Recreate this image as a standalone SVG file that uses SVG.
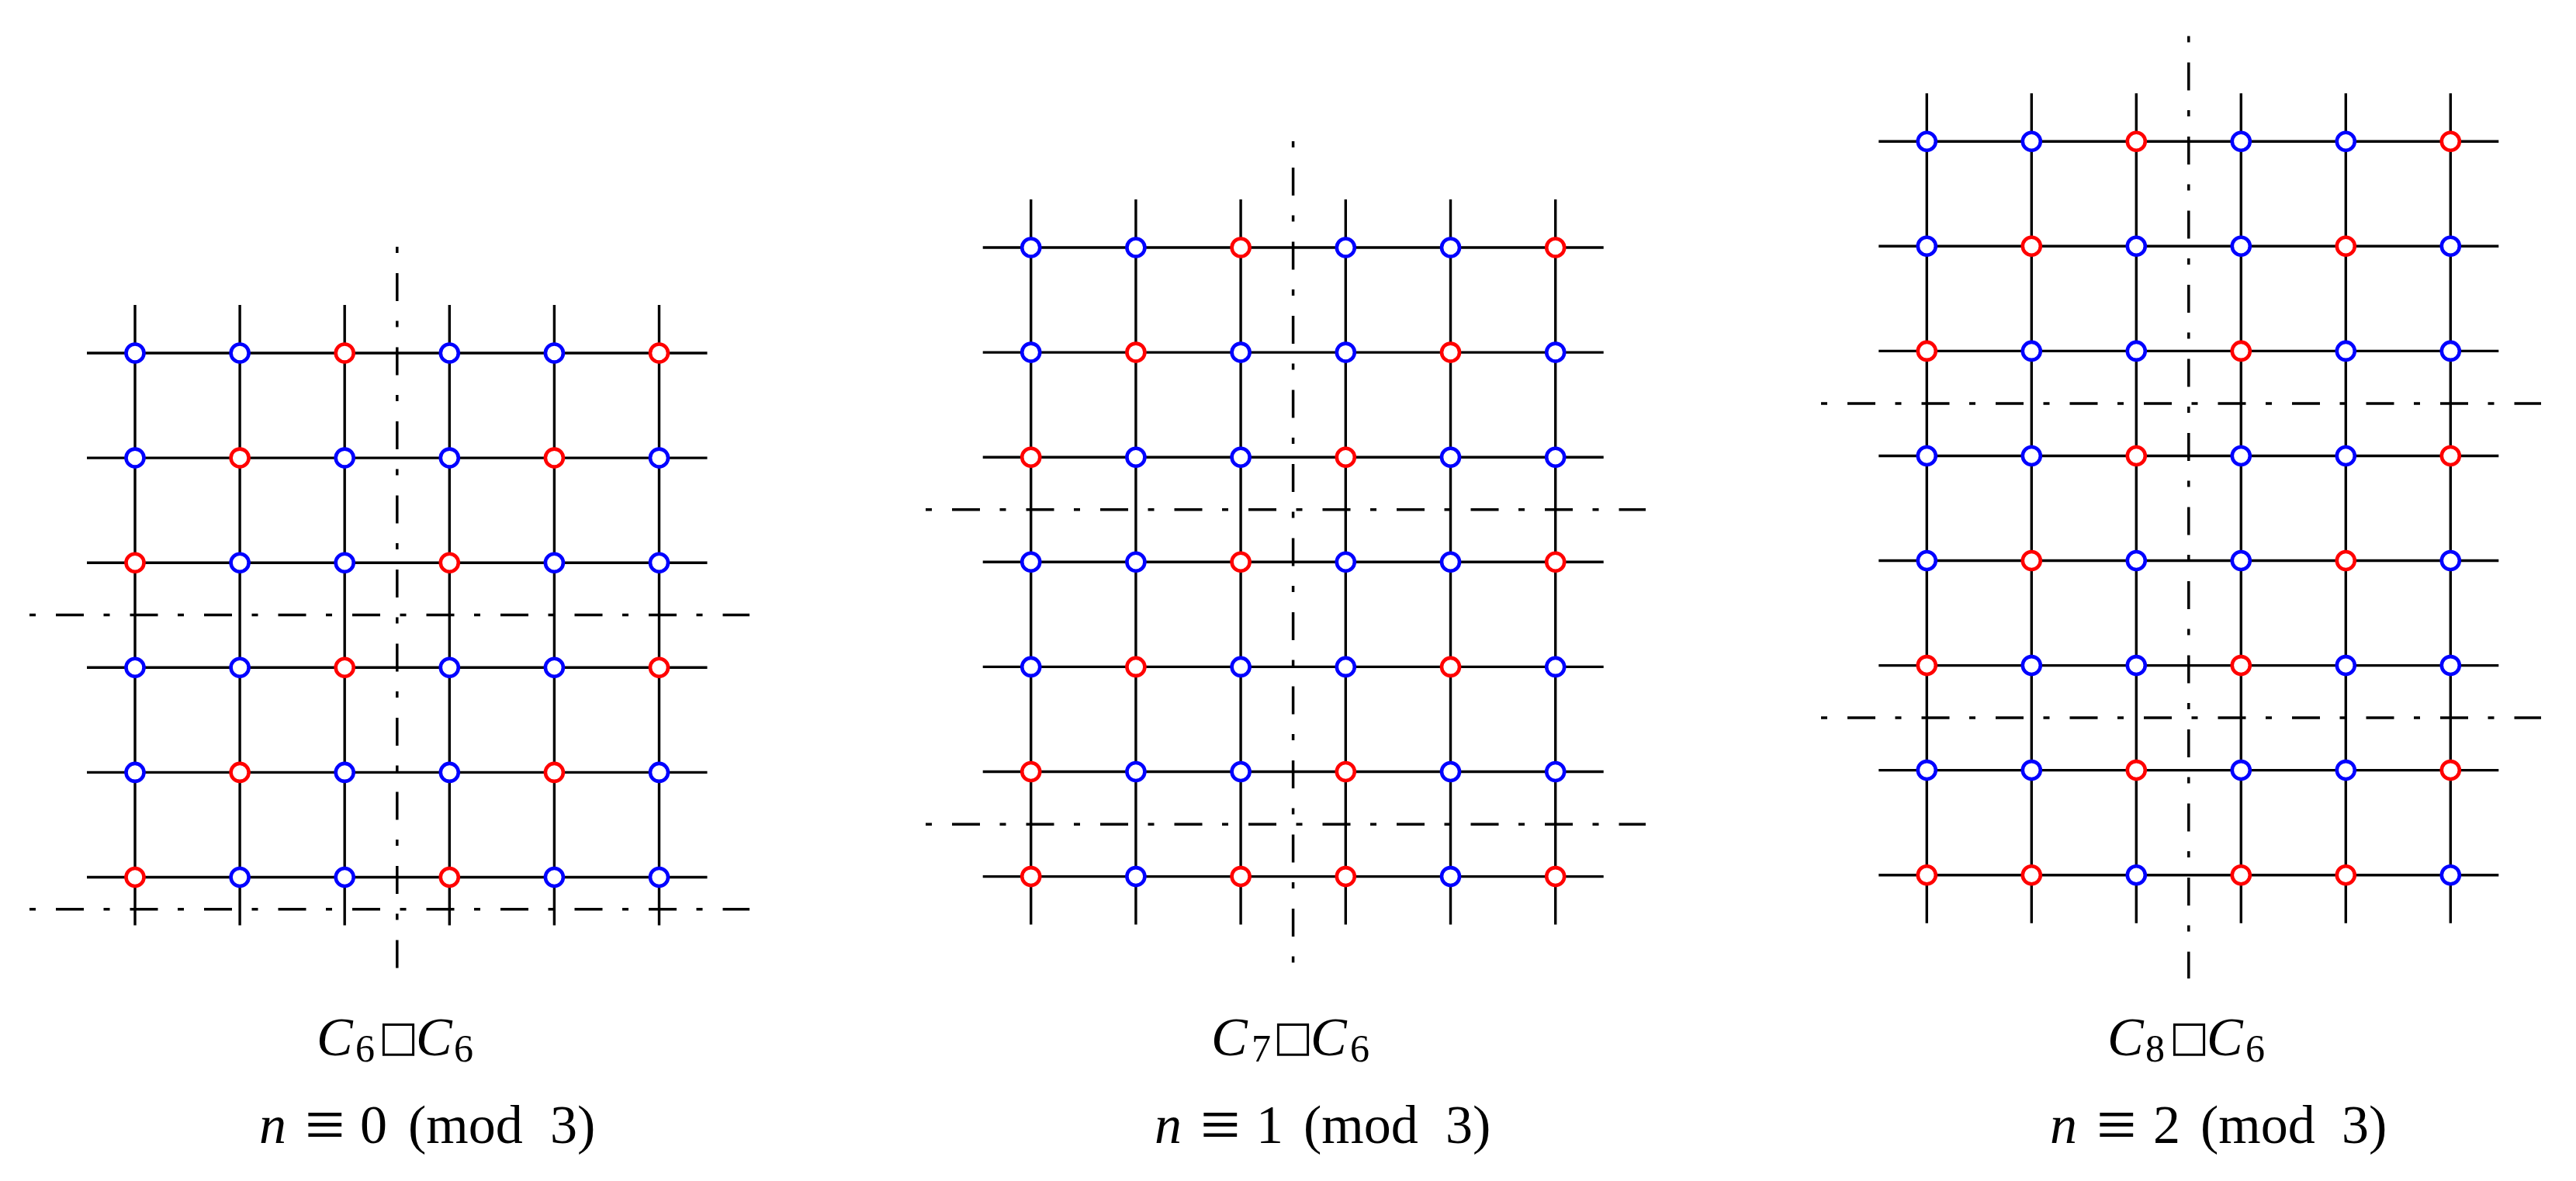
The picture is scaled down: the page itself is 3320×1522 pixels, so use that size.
<svg xmlns="http://www.w3.org/2000/svg" xmlns:xlink="http://www.w3.org/1999/xlink" width="3320" height="1522" viewBox="0 0 3320 1522">
<style>
.gl{stroke:#000;stroke-width:3.4;fill:none}
.dd{stroke:#000;stroke-width:3.5;fill:none;stroke-dasharray:8 26 36 25.5}
.t{font-family:"Liberation Serif","Times New Roman",serif;font-size:70px;fill:#000}
.i{font-style:italic}
.s{font-size:50px}
.bx{font-family:"DejaVu Sans",sans-serif;font-size:54px}
.eq{font-size:92px}
</style>
<defs>
<circle id="B" r="11.5" fill="#fff" stroke="#0000ff" stroke-width="4.6"/>
<circle id="R" r="11.5" fill="#fff" stroke="#ff0000" stroke-width="4.6"/>
</defs>
<rect width="3320" height="1522" fill="#fff"/>
<g id="connectors">
<path class="gl" d="M112 455H911.5M112 590.1H911.5M112 725.2H911.5M112 860.3H911.5M112 995.4H911.5M112 1130.5H911.5M174 393V1192.5M309.1 393V1192.5M444.2 393V1192.5M579.3 393V1192.5M714.4 393V1192.5M849.5 393V1192.5"/>
<path class="gl" d="M1266.7 319H2066.7M1266.7 454.1H2066.7M1266.7 589.2H2066.7M1266.7 724.3H2066.7M1266.7 859.4H2066.7M1266.7 994.5H2066.7M1266.7 1129.6H2066.7M1328.7 257V1191.6M1463.9 257V1191.6M1599.1 257V1191.6M1734.3 257V1191.6M1869.5 257V1191.6M2004.7 257V1191.6"/>
<path class="gl" d="M2421.3 182.3H3220.3M2421.3 317.3H3220.3M2421.3 452.4H3220.3M2421.3 587.5H3220.3M2421.3 722.5H3220.3M2421.3 857.6H3220.3M2421.3 992.6H3220.3M2421.3 1127.7H3220.3M2483.3 120.3V1189.7M2618.3 120.3V1189.7M2753.3 120.3V1189.7M2888.3 120.3V1189.7M3023.3 120.3V1189.7M3158.3 120.3V1189.7"/>
<path class="dd" d="M511.8 318V1248"/>
<path class="dd" d="M38 792.6H966"/>
<path class="dd" d="M38 1171.7H966"/>
<path class="dd" d="M1666.6 182V1241"/>
<path class="dd" d="M1193 656.7H2121"/>
<path class="dd" d="M1193 1062.3H2121"/>
<path class="dd" d="M2820.8 46.5V1261"/>
<path class="dd" d="M2347 520H3275"/>
<path class="dd" d="M2347 925H3275"/>
</g>
<g id="grid1-nodes">
<g id="a-1-1"><use href="#B" x="174" y="455"/></g>
<g id="a-1-2"><use href="#B" x="309.1" y="455"/></g>
<g id="a-1-3"><use href="#R" x="444.2" y="455"/></g>
<g id="a-1-4"><use href="#B" x="579.3" y="455"/></g>
<g id="a-1-5"><use href="#B" x="714.4" y="455"/></g>
<g id="a-1-6"><use href="#R" x="849.5" y="455"/></g>
<g id="a-2-1"><use href="#B" x="174" y="590.1"/></g>
<g id="a-2-2"><use href="#R" x="309.1" y="590.1"/></g>
<g id="a-2-3"><use href="#B" x="444.2" y="590.1"/></g>
<g id="a-2-4"><use href="#B" x="579.3" y="590.1"/></g>
<g id="a-2-5"><use href="#R" x="714.4" y="590.1"/></g>
<g id="a-2-6"><use href="#B" x="849.5" y="590.1"/></g>
<g id="a-3-1"><use href="#R" x="174" y="725.2"/></g>
<g id="a-3-2"><use href="#B" x="309.1" y="725.2"/></g>
<g id="a-3-3"><use href="#B" x="444.2" y="725.2"/></g>
<g id="a-3-4"><use href="#R" x="579.3" y="725.2"/></g>
<g id="a-3-5"><use href="#B" x="714.4" y="725.2"/></g>
<g id="a-3-6"><use href="#B" x="849.5" y="725.2"/></g>
<g id="a-4-1"><use href="#B" x="174" y="860.3"/></g>
<g id="a-4-2"><use href="#B" x="309.1" y="860.3"/></g>
<g id="a-4-3"><use href="#R" x="444.2" y="860.3"/></g>
<g id="a-4-4"><use href="#B" x="579.3" y="860.3"/></g>
<g id="a-4-5"><use href="#B" x="714.4" y="860.3"/></g>
<g id="a-4-6"><use href="#R" x="849.5" y="860.3"/></g>
<g id="a-5-1"><use href="#B" x="174" y="995.4"/></g>
<g id="a-5-2"><use href="#R" x="309.1" y="995.4"/></g>
<g id="a-5-3"><use href="#B" x="444.2" y="995.4"/></g>
<g id="a-5-4"><use href="#B" x="579.3" y="995.4"/></g>
<g id="a-5-5"><use href="#R" x="714.4" y="995.4"/></g>
<g id="a-5-6"><use href="#B" x="849.5" y="995.4"/></g>
<g id="a-6-1"><use href="#R" x="174" y="1130.5"/></g>
<g id="a-6-2"><use href="#B" x="309.1" y="1130.5"/></g>
<g id="a-6-3"><use href="#B" x="444.2" y="1130.5"/></g>
<g id="a-6-4"><use href="#R" x="579.3" y="1130.5"/></g>
<g id="a-6-5"><use href="#B" x="714.4" y="1130.5"/></g>
<g id="a-6-6"><use href="#B" x="849.5" y="1130.5"/></g>
</g>
<g id="grid2-nodes">
<g id="b-1-1"><use href="#B" x="1328.7" y="319"/></g>
<g id="b-1-2"><use href="#B" x="1463.9" y="319"/></g>
<g id="b-1-3"><use href="#R" x="1599.1" y="319"/></g>
<g id="b-1-4"><use href="#B" x="1734.3" y="319"/></g>
<g id="b-1-5"><use href="#B" x="1869.5" y="319"/></g>
<g id="b-1-6"><use href="#R" x="2004.7" y="319"/></g>
<g id="b-2-1"><use href="#B" x="1328.7" y="454.1"/></g>
<g id="b-2-2"><use href="#R" x="1463.9" y="454.1"/></g>
<g id="b-2-3"><use href="#B" x="1599.1" y="454.1"/></g>
<g id="b-2-4"><use href="#B" x="1734.3" y="454.1"/></g>
<g id="b-2-5"><use href="#R" x="1869.5" y="454.1"/></g>
<g id="b-2-6"><use href="#B" x="2004.7" y="454.1"/></g>
<g id="b-3-1"><use href="#R" x="1328.7" y="589.2"/></g>
<g id="b-3-2"><use href="#B" x="1463.9" y="589.2"/></g>
<g id="b-3-3"><use href="#B" x="1599.1" y="589.2"/></g>
<g id="b-3-4"><use href="#R" x="1734.3" y="589.2"/></g>
<g id="b-3-5"><use href="#B" x="1869.5" y="589.2"/></g>
<g id="b-3-6"><use href="#B" x="2004.7" y="589.2"/></g>
<g id="b-4-1"><use href="#B" x="1328.7" y="724.3"/></g>
<g id="b-4-2"><use href="#B" x="1463.9" y="724.3"/></g>
<g id="b-4-3"><use href="#R" x="1599.1" y="724.3"/></g>
<g id="b-4-4"><use href="#B" x="1734.3" y="724.3"/></g>
<g id="b-4-5"><use href="#B" x="1869.5" y="724.3"/></g>
<g id="b-4-6"><use href="#R" x="2004.7" y="724.3"/></g>
<g id="b-5-1"><use href="#B" x="1328.7" y="859.4"/></g>
<g id="b-5-2"><use href="#R" x="1463.9" y="859.4"/></g>
<g id="b-5-3"><use href="#B" x="1599.1" y="859.4"/></g>
<g id="b-5-4"><use href="#B" x="1734.3" y="859.4"/></g>
<g id="b-5-5"><use href="#R" x="1869.5" y="859.4"/></g>
<g id="b-5-6"><use href="#B" x="2004.7" y="859.4"/></g>
<g id="b-6-1"><use href="#R" x="1328.7" y="994.5"/></g>
<g id="b-6-2"><use href="#B" x="1463.9" y="994.5"/></g>
<g id="b-6-3"><use href="#B" x="1599.1" y="994.5"/></g>
<g id="b-6-4"><use href="#R" x="1734.3" y="994.5"/></g>
<g id="b-6-5"><use href="#B" x="1869.5" y="994.5"/></g>
<g id="b-6-6"><use href="#B" x="2004.7" y="994.5"/></g>
<g id="b-7-1"><use href="#R" x="1328.7" y="1129.6"/></g>
<g id="b-7-2"><use href="#B" x="1463.9" y="1129.6"/></g>
<g id="b-7-3"><use href="#R" x="1599.1" y="1129.6"/></g>
<g id="b-7-4"><use href="#R" x="1734.3" y="1129.6"/></g>
<g id="b-7-5"><use href="#B" x="1869.5" y="1129.6"/></g>
<g id="b-7-6"><use href="#R" x="2004.7" y="1129.6"/></g>
</g>
<g id="grid3-nodes">
<g id="c-1-1"><use href="#B" x="2483.3" y="182.3"/></g>
<g id="c-1-2"><use href="#B" x="2618.3" y="182.3"/></g>
<g id="c-1-3"><use href="#R" x="2753.3" y="182.3"/></g>
<g id="c-1-4"><use href="#B" x="2888.3" y="182.3"/></g>
<g id="c-1-5"><use href="#B" x="3023.3" y="182.3"/></g>
<g id="c-1-6"><use href="#R" x="3158.3" y="182.3"/></g>
<g id="c-2-1"><use href="#B" x="2483.3" y="317.3"/></g>
<g id="c-2-2"><use href="#R" x="2618.3" y="317.3"/></g>
<g id="c-2-3"><use href="#B" x="2753.3" y="317.3"/></g>
<g id="c-2-4"><use href="#B" x="2888.3" y="317.3"/></g>
<g id="c-2-5"><use href="#R" x="3023.3" y="317.3"/></g>
<g id="c-2-6"><use href="#B" x="3158.3" y="317.3"/></g>
<g id="c-3-1"><use href="#R" x="2483.3" y="452.4"/></g>
<g id="c-3-2"><use href="#B" x="2618.3" y="452.4"/></g>
<g id="c-3-3"><use href="#B" x="2753.3" y="452.4"/></g>
<g id="c-3-4"><use href="#R" x="2888.3" y="452.4"/></g>
<g id="c-3-5"><use href="#B" x="3023.3" y="452.4"/></g>
<g id="c-3-6"><use href="#B" x="3158.3" y="452.4"/></g>
<g id="c-4-1"><use href="#B" x="2483.3" y="587.5"/></g>
<g id="c-4-2"><use href="#B" x="2618.3" y="587.5"/></g>
<g id="c-4-3"><use href="#R" x="2753.3" y="587.5"/></g>
<g id="c-4-4"><use href="#B" x="2888.3" y="587.5"/></g>
<g id="c-4-5"><use href="#B" x="3023.3" y="587.5"/></g>
<g id="c-4-6"><use href="#R" x="3158.3" y="587.5"/></g>
<g id="c-5-1"><use href="#B" x="2483.3" y="722.5"/></g>
<g id="c-5-2"><use href="#R" x="2618.3" y="722.5"/></g>
<g id="c-5-3"><use href="#B" x="2753.3" y="722.5"/></g>
<g id="c-5-4"><use href="#B" x="2888.3" y="722.5"/></g>
<g id="c-5-5"><use href="#R" x="3023.3" y="722.5"/></g>
<g id="c-5-6"><use href="#B" x="3158.3" y="722.5"/></g>
<g id="c-6-1"><use href="#R" x="2483.3" y="857.6"/></g>
<g id="c-6-2"><use href="#B" x="2618.3" y="857.6"/></g>
<g id="c-6-3"><use href="#B" x="2753.3" y="857.6"/></g>
<g id="c-6-4"><use href="#R" x="2888.3" y="857.6"/></g>
<g id="c-6-5"><use href="#B" x="3023.3" y="857.6"/></g>
<g id="c-6-6"><use href="#B" x="3158.3" y="857.6"/></g>
<g id="c-7-1"><use href="#B" x="2483.3" y="992.6"/></g>
<g id="c-7-2"><use href="#B" x="2618.3" y="992.6"/></g>
<g id="c-7-3"><use href="#R" x="2753.3" y="992.6"/></g>
<g id="c-7-4"><use href="#B" x="2888.3" y="992.6"/></g>
<g id="c-7-5"><use href="#B" x="3023.3" y="992.6"/></g>
<g id="c-7-6"><use href="#R" x="3158.3" y="992.6"/></g>
<g id="c-8-1"><use href="#R" x="2483.3" y="1127.7"/></g>
<g id="c-8-2"><use href="#R" x="2618.3" y="1127.7"/></g>
<g id="c-8-3"><use href="#B" x="2753.3" y="1127.7"/></g>
<g id="c-8-4"><use href="#R" x="2888.3" y="1127.7"/></g>
<g id="c-8-5"><use href="#R" x="3023.3" y="1127.7"/></g>
<g id="c-8-6"><use href="#B" x="3158.3" y="1127.7"/></g>
</g>
<g id="labels">
<text class="t"><tspan class="i" x="408" y="1360">C</tspan><tspan class="s" x="458" y="1368">6</tspan><tspan class="bx" x="488" y="1354">□</tspan><tspan class="i" x="536" y="1360">C</tspan><tspan class="s" x="585" y="1368">6</tspan></text>
<text class="t"><tspan class="i" x="334" y="1473">n</tspan><tspan class="eq" x="393" y="1480">≡</tspan><tspan x="464" y="1473">0</tspan><tspan x="526" y="1473">(mod</tspan><tspan x="709" y="1473">3)</tspan></text>
<text class="t"><tspan class="i" x="1561" y="1360">C</tspan><tspan class="s" x="1613" y="1368">7</tspan><tspan class="bx" x="1641" y="1354">□</tspan><tspan class="i" x="1689" y="1360">C</tspan><tspan class="s" x="1740" y="1368">6</tspan></text>
<text class="t"><tspan class="i" x="1488" y="1473">n</tspan><tspan class="eq" x="1547" y="1480">≡</tspan><tspan x="1619" y="1473">1</tspan><tspan x="1680" y="1473">(mod</tspan><tspan x="1863" y="1473">3)</tspan></text>
<text class="t"><tspan class="i" x="2716" y="1360">C</tspan><tspan class="s" x="2765" y="1368">8</tspan><tspan class="bx" x="2796" y="1354">□</tspan><tspan class="i" x="2844" y="1360">C</tspan><tspan class="s" x="2894" y="1368">6</tspan></text>
<text class="t"><tspan class="i" x="2642" y="1473">n</tspan><tspan class="eq" x="2702" y="1480">≡</tspan><tspan x="2775" y="1473">2</tspan><tspan x="2836" y="1473">(mod</tspan><tspan x="3018" y="1473">3)</tspan></text>
</g>
</svg>
